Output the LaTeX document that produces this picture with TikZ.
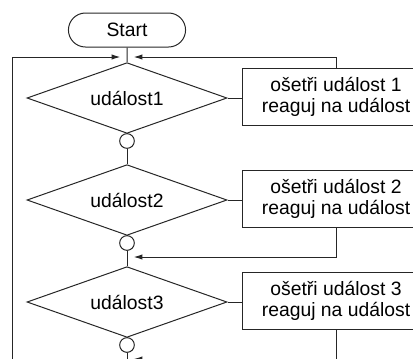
\documentclass[tikz,border=0pt]{standalone}
\usepackage{fontspec}
\setmainfont{Liberation Sans}
\usetikzlibrary{shapes.geometric,shapes.misc,arrows.meta}
\tikzset{
	dec/.style={diamond,draw,aspect=2.8,inner sep=0pt,minimum width=150pt,minimum height=53pt},
	term/.style={rounded rectangle,draw,minimum width=94.5pt,minimum height=25.5pt},
	joint/.style={circle,draw,inner sep=0pt,minimum size=11pt},
	act/.style={rectangle,draw,align=center,minimum width=141pt,minimum height=42.75pt,inner sep=0pt},
	back/.style={-{Latex[length=6.5pt,width=4pt]}}
}
\begin{document}
\begin{tikzpicture}[x=0.75pt,y=-0.75pt,line width=0.75pt,draw=black!85,font=\fontsize{14.5}{16}\selectfont]
	\useasboundingbox (0,0) rectangle (413,358);
	\clip (0,0) rectangle (413,358);
	\node[term] (start) at (127,30) {Start};
	\foreach \i/\y in {1/98,2/200,3/302}{
		\node[dec] (ud\i) at (127,\y) {událost\i};
		\node[joint] (j\i) at (127,\y+43) {};
		\node[act] (b\i) at (336,\y-1) {ošetři událost \i\\reaguj na událost};
		\draw (ud\i) -- (j\i);
		\draw (ud\i.east) -- (ud\i.east -| b\i.west);
	}
	\coordinate (m1) at (127,57);
	\coordinate (m2) at (127,257);
	\coordinate (m3) at (127,359);
	\coordinate (end) at (127,372);
	\coordinate (l) at (12,372);
	\draw (start) -- (ud1);
	\draw (j1) -- (ud2);
	\draw (j2) -- (ud3);
	\draw (j3) -- (end);
	\draw[back] (l) |- ([xshift=-5pt]m1);
	\draw[back] (b1.north) |- ([xshift=5pt]m1);
	\draw[back] (b2.south) |- ([xshift=5pt]m2);
	\draw[back] (b3.south) |- ([xshift=5pt]m3);
\end{tikzpicture}
\end{document}
